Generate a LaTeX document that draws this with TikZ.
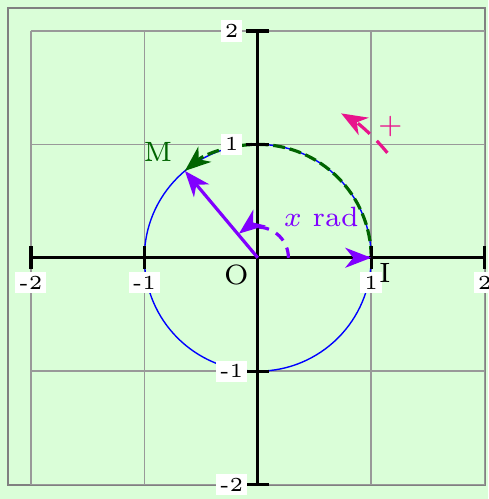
\documentclass[tikz,border=0pt]{standalone}
\usetikzlibrary{arrows.meta}
\definecolor{bgg}{RGB}{218,254,216}
\definecolor{pinkm}{RGB}{232,20,140}
\definecolor{dgreen}{RGB}{0,100,0}
\definecolor{vio}{RGB}{128,0,255}
\begin{document}
\begin{tikzpicture}[
  lab/.style={fill=white,inner sep=1pt,font=\tiny},
  tip/.style={-{Stealth[length=6.5pt,width=5pt,inset=2pt]}},
  gridline/.style={gray!80,line width=0.4pt},
  axisline/.style={black,line width=0.8pt},
]
\useasboundingbox[fill=bgg] (-2.273,-2.127) rectangle (2.034,2.273);
\draw[gray,line width=0.5pt] (-2.2,-2) rectangle (2,2.2);
\draw[gridline] (-2,-2) grid (2,2);
\draw[blue, line width=0.35pt] (0,0) circle (1);
% green dashed arc
\draw[dgreen, line width=0.8pt, dash pattern=on 3pt off 1.2pt, tip] (1,0) arc (0:130:1) coordinate (Mend);
% violet vector O->I shaft under axes
\coordinate (O) at (0,0);
\coordinate (I) at (1,0);
\coordinate (M) at (130:1);
\draw[vio, line width=0.8pt] (O) -- (I);
% axes
\draw[axisline] (-2,0) -- (2,0);
\draw[axisline] (0,-2) -- (0,2);
\foreach \t in {-2,-1,1,2} {
  \draw[axisline] (\t,-0.1) -- (\t,0.1);
  \draw[axisline] (-0.1,\t) -- (0.1,\t);
}
\foreach \t/\s in {-2/-2,-1/-1,1/1,2/2} {
  \node[lab] (xl\t) at (\t,-0.22) {\s};
  \node[lab] (yl\t) at (-0.23,\t) {\s};
}
% violet vectors
\coordinate (Ia) at (0.98,0);
\draw[vio, line width=0.8pt, tip] (Ia) -- (I);
\draw[vio, line width=0.8pt, tip] (O) -- (M);
% small angle arc
\draw[vio, line width=0.8pt, dash pattern=on 2.6pt off 2pt, tip] (0.27,0) arc (0:128:0.27);
\node[vio, font=\scriptsize] (xr) at (0.56,0.36) {$x$ rad};
% pink direction arrow
\draw[pinkm, line width=0.8pt, dash pattern=on 4pt off 2.5pt, tip] (39:1.47) arc (39:60:1.47);
\node[pinkm, font=\scriptsize] (plus) at (1.17,1.16) {+};
% labels
\node[dgreen, font=\scriptsize] (Ml) at (-0.88,0.93) {M};
\node[font=\scriptsize] (Ol) at (-0.19,-0.15) {O};
\node[font=\scriptsize] (Il) at (1.12,-0.13) {I};
\end{tikzpicture}
\end{document}
